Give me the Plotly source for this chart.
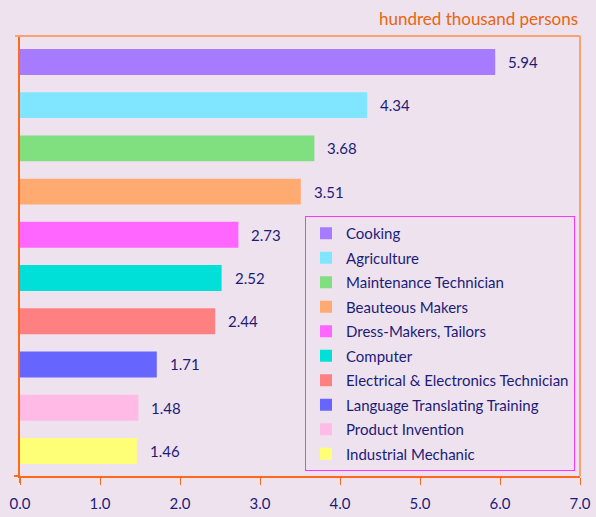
import plotly.graph_objects as go

categories = ["Cooking", "Agriculture", "Maintenance Technician", "Beauteous Makers",
              "Dress-Makers, Tailors", "Computer", "Electrical & Electronics Technician",
              "Language Translating Training", "Product Invention", "Industrial Mechanic"]
values = [5.94, 4.34, 3.68, 3.51, 2.73, 2.52, 2.44, 1.71, 1.48, 1.46]
colors = ["#A67BFF", "#80E6FF", "#80E080", "#FFAA70", "#FF66FF",
          "#00E0D8", "#FF8080", "#6666FF", "#FFBBE6", "#FFFF77"]
tick_vals = [0, 1, 2, 3, 4, 5, 6, 7]
unit_label = "hundred thousand persons"

NAVY = "#1C1C78"
FONT = "Lato"
BG = "#EEE2EE"

fig = go.Figure()
order = list(reversed(categories))
for i, (c, v, col) in enumerate(zip(categories, values, colors)):
    fig.add_trace(go.Bar(
        x=[v], y=[c], orientation="h", name=c, marker=dict(color=col, line=dict(width=0)),
        width=0.6, legendgroup=c, showlegend=True,
    ))
    fig.add_annotation(x=v, y=c, text=f"{v:.2f}", showarrow=False, xanchor="left",
                       xshift=11, font=dict(family=FONT, size=15, color=NAVY))

fig.add_annotation(xref="paper", yref="paper", x=1, y=1, yshift=5, yanchor="bottom",
                   xanchor="right", text=unit_label, showarrow=False,
                   font=dict(family=FONT, size=17, color="#E8640F"))

fig.update_layout(
    width=596, height=517,
    margin=dict(l=20, r=16, t=36, b=41),
    paper_bgcolor=BG, plot_bgcolor=BG,
    barmode="overlay",
    showlegend=True,
    legend=dict(
        x=(305 - 20) / 560, y=(476 - 216) / 440, xanchor="left", yanchor="top",
        bgcolor="rgba(0,0,0,0)", bordercolor="#FF33FF", borderwidth=1,
        font=dict(family=FONT, size=15, color=NAVY),
        tracegroupgap=2, itemwidth=30, traceorder="grouped",
    ),
    xaxis=dict(range=[0, 7], tickvals=tick_vals, tickformat=".1f", showgrid=False,
               zeroline=False, showline=True, linecolor="#FF6A1A", linewidth=2,
               ticks="outside", ticklen=7, tickcolor="#FF6A1A", tickwidth=1,
               ticklabelstandoff=6, automargin=False,
               tickfont=dict(family=FONT, size=15, color=NAVY)),
    yaxis=dict(categoryorder="array", categoryarray=order, range=[-0.58, 9.6],
               showticklabels=False, showgrid=False, zeroline=False, showline=True,
               automargin=False,
               linecolor="#FF6A1A", linewidth=2, ticks=""),
    shapes=[
        dict(type="line", xref="paper", yref="paper", x0=-5/560, x1=1, y0=1, y1=1,
             line=dict(color="#FFA070", width=2), layer="above"),
        dict(type="line", xref="paper", yref="paper", x0=1, x1=1, y0=0, y1=1,
             line=dict(color="#FFA070", width=2), layer="above"),
        dict(type="line", xref="paper", yref="paper", x0=-6/560, x1=0, y0=0, y1=0,
             line=dict(color="#FF6A1A", width=2), layer="above"),
        dict(type="line", xref="paper", yref="paper", x0=0, x1=0, y0=-7/440, y1=0,
             line=dict(color="#FF6A1A", width=2), layer="above"),
    ],
)

fig.write_html("out.html")
